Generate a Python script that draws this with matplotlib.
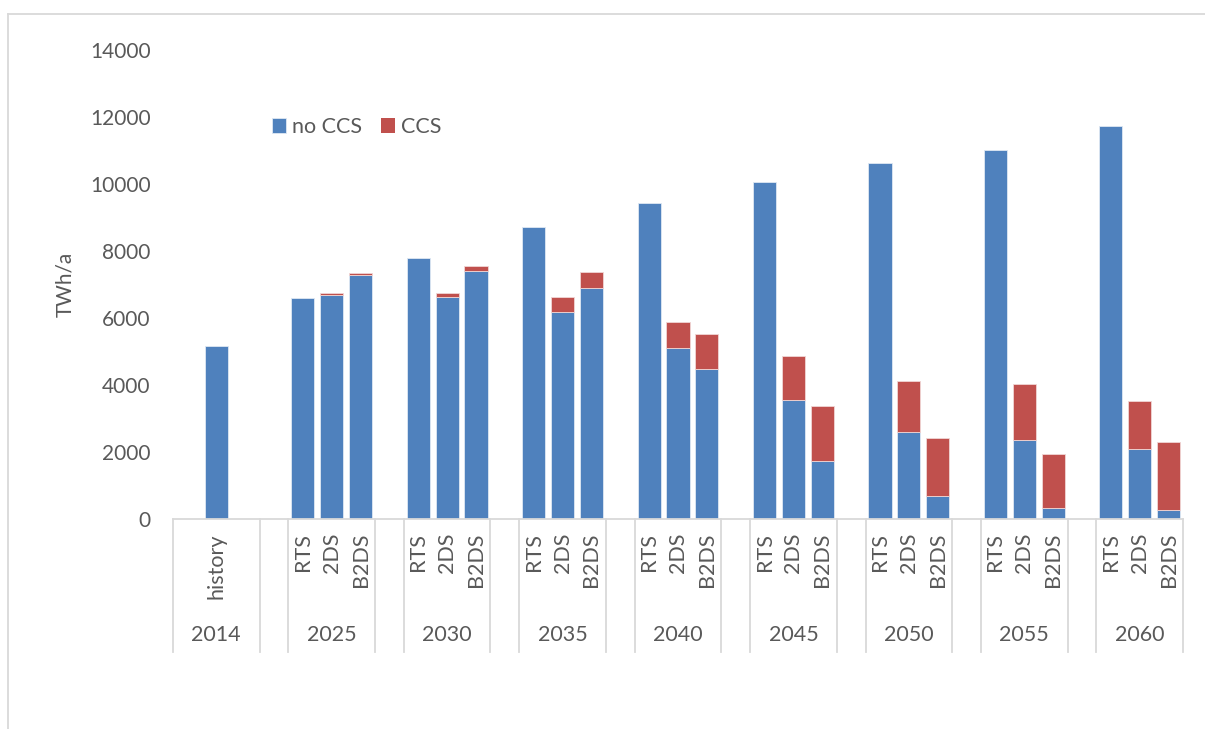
import numpy as np
import matplotlib.pyplot as plt
from matplotlib.lines import Line2D

plt.rcParams['font.family'] = ['Lato', 'DejaVu Sans']
plt.rcParams['font.size'] = 15

# data (TWh/a)
years = ['2014', '2025', '2030', '2035', '2040', '2045', '2050', '2055', '2060']
scenarios = ['RTS', '2DS', 'B2DS']
history_no_ccs = 5170
rts_no_ccs = [6600, 7780, 8720, 9420, 10070, 10620, 11010, 11740]
rts_ccs = [0, 0, 0, 0, 0, 0, 0, 0]
ds2_no_ccs = [6700, 6620, 6170, 5110, 3540, 2590, 2360, 2080]
ds2_ccs = [35, 120, 470, 780, 1330, 1540, 1670, 1440]
b2ds_no_ccs = [7290, 7400, 6890, 4480, 1740, 680, 330, 260]
b2ds_ccs = [40, 150, 490, 1030, 1620, 1730, 1600, 2040]

blue = '#4F81BD'
red = '#C0504D'
txt = '#595959'
grid = '#D9D9D9'

# build the slots: 3 per year group, one empty slot between groups
xs, labels, low, high = [1.5], ['history'], [history_no_ccs], [0]
group_starts = [0]
for k in range(len(years) - 1):
    start = 4 + 4 * k
    group_starts.append(start)
    vals = [(rts_no_ccs[k], rts_ccs[k]), (ds2_no_ccs[k], ds2_ccs[k]),
            (b2ds_no_ccs[k], b2ds_ccs[k])]
    for j, (a, b) in enumerate(vals):
        xs.append(start + j + 0.5)
        labels.append(scenarios[j])
        low.append(a)
        high.append(b)
xs = np.array(xs)
low = np.array(low)
high = np.array(high)

fig = plt.figure(figsize=(12.05, 7.29), dpi=100)
W, H = 1205, 729
ax = fig.add_axes([173 / W, 1 - 519 / H, 1010 / W, 469 / H])

ax.bar(xs, low, width=0.8, color=blue, edgecolor='#dfe8f3', linewidth=0.6, label='no CCS')
red_edges = ['#f0d6d5' if h > 0 else 'none' for h in high]
ax.bar(xs, high, width=0.8, bottom=low, color=red, edgecolor=red_edges, linewidth=0.6, label='CCS')

ax.set_xlim(0, 35)
ax.set_ylim(0, 14000)
ax.set_yticks(np.arange(0, 14001, 2000))
ax.tick_params(axis='y', length=0, pad=16, labelcolor=txt, labelsize=15)
ax.set_xticks([])
for s in ['top', 'right', 'left']:
    ax.spines[s].set_visible(False)
ax.spines['bottom'].set_color(grid)
ax.spines['bottom'].set_linewidth(1.3)

trans = ax.get_xaxis_transform()
# scenario labels
for x, lab in zip(xs, labels):
    ax.text(x, -0.03, lab, rotation=90, ha='center', va='top', color=txt,
            fontsize=15.5, transform=trans)
# year labels and separators
bottom_y = (519 - 652) / 469
for start, yr in zip(group_starts, years):
    ax.text(start + 1.5, -0.247, yr, ha='center', va='center', color=txt,
            fontsize=15.5, transform=trans)
    for xb in (start, start + 3):
        ax.plot([xb, xb], [0, bottom_y], color=grid, lw=1.3, transform=trans,
                clip_on=False)

fig.text(65 / W, 1 - 284 / H, 'TWh/a', rotation=90, ha='center', va='center',
         color=txt, fontsize=15)

ax.legend(loc='center left', bbox_to_anchor=(261 / W, 1 - 127 / H),
          bbox_transform=fig.transFigure, ncol=2, frameon=False, borderpad=0,
          handlelength=0.65, handleheight=0.65, handletextpad=0.3,
          columnspacing=0.85, labelcolor=txt, fontsize=15.5)

# chart area border
fig.add_artist(Line2D([8 / W, 1], [1 - 14 / H, 1 - 14 / H], color=grid, lw=1.3))
fig.add_artist(Line2D([8 / W, 8 / W], [0, 1 - 14 / H], color=grid, lw=1.3))

fig.savefig('out.png', dpi=100)
